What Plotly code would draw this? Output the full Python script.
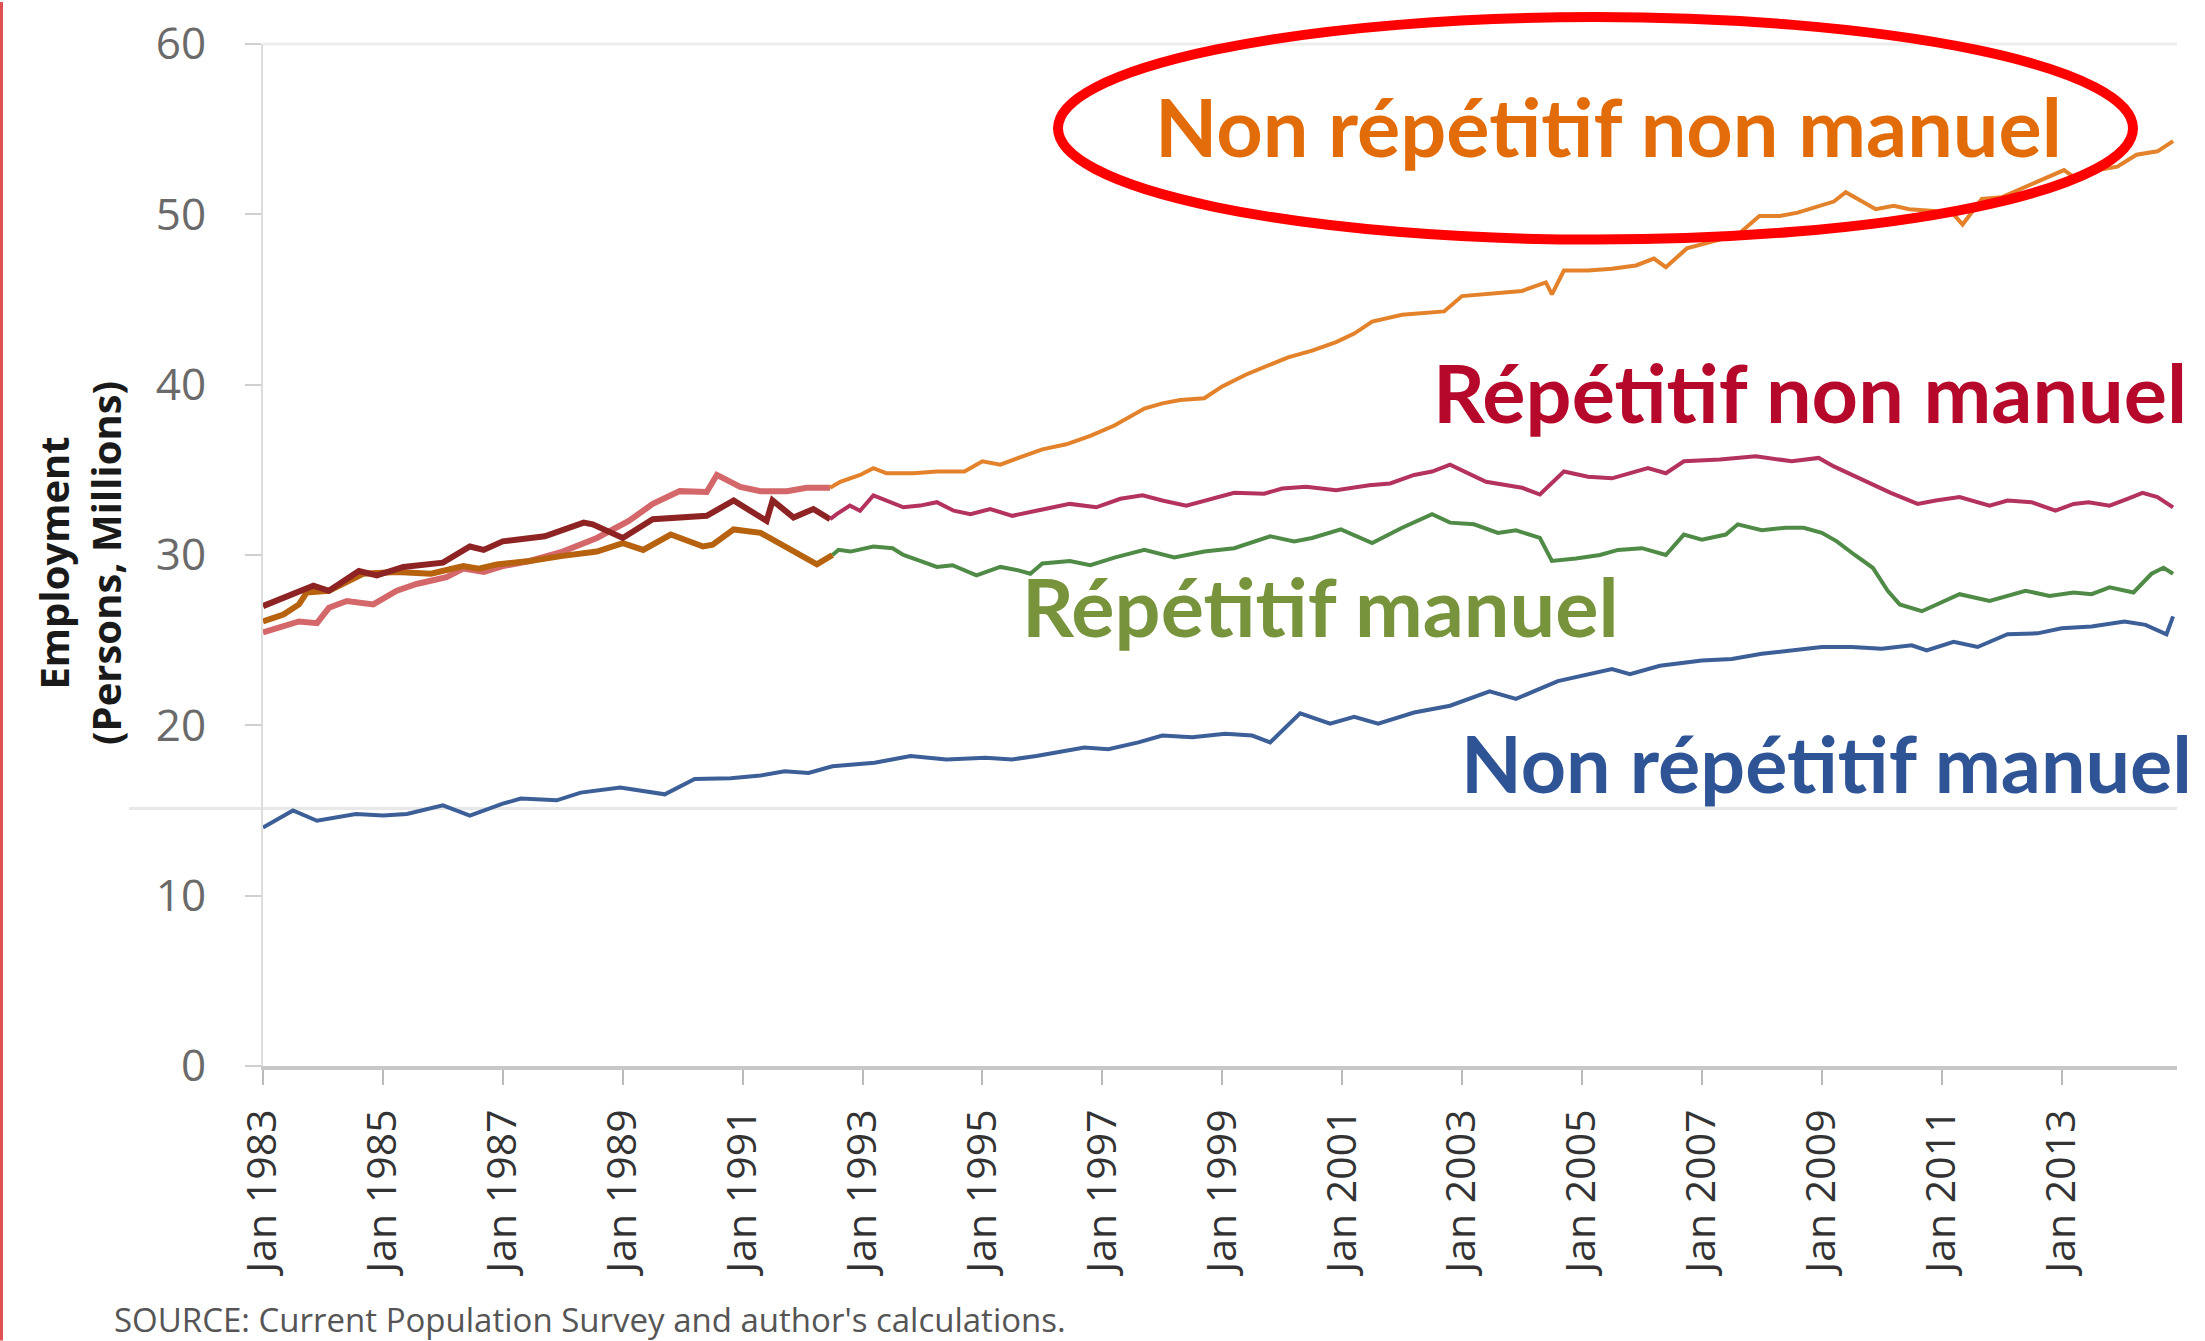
import plotly.graph_objects as go
import pandas as pd

# ---------------- data (decimal years, millions of persons) ----------------
nm_years = [1983.0, 1983.5, 1983.9, 1984.55, 1985.0, 1985.4, 1986.0, 1986.45, 1987.0, 1987.3,
            1987.9, 1988.3, 1988.96, 1989.7, 1990.2, 1990.8, 1991.3, 1991.7, 1992.1, 1992.5,
            1993.2, 1993.8, 1994.4, 1995.05, 1995.5, 1995.9, 1996.7, 1997.1, 1997.6, 1998.0,
            1998.5, 1999.05, 1999.5, 1999.8, 2000.3, 2000.8, 2001.2, 2001.6, 2002.2, 2002.8,
            2003.46, 2003.9, 2004.6, 2005.0, 2005.5, 2005.8, 2006.3, 2007.0, 2007.5, 2008.0,
            2008.5, 2009.0, 2009.5, 2010.0, 2010.5, 2010.75, 2011.2, 2011.6, 2012.1, 2012.6,
            2013.0, 2013.5, 2014.05, 2014.4, 2014.75, 2014.86]
nm_values = [14.0, 15.0, 14.4, 14.8, 14.7, 14.8, 15.3, 14.7, 15.4, 15.7,
             15.6, 16.05, 16.35, 15.95, 16.85, 16.9, 17.05, 17.3, 17.2, 17.6,
             17.8, 18.2, 18.0, 18.1, 18.0, 18.2, 18.7, 18.6, 19.0, 19.4,
             19.3, 19.5, 19.4, 19.0, 20.7, 20.1, 20.5, 20.1, 20.75, 21.15,
             22.0, 21.55, 22.6, 22.9, 23.3, 23.0, 23.5, 23.8, 23.9, 24.2,
             24.4, 24.6, 24.6, 24.5, 24.7, 24.4, 24.9, 24.6, 25.35, 25.4,
             25.7, 25.8, 26.1, 25.9, 25.35, 26.4]

rnm_old_years = [1983.0, 1983.34, 1983.67, 1983.84, 1984.1, 1984.6, 1984.9, 1985.34, 1986.0, 1986.45,
                 1986.68, 1987.0, 1987.7, 1988.35, 1988.5, 1989.0, 1989.5, 1990.4, 1990.85, 1991.4,
                 1991.5, 1991.85, 1992.18, 1992.46]
rnm_old_values = [27.0, 27.5, 27.9, 28.2, 27.9, 29.06, 28.8, 29.3, 29.55, 30.5,
                  30.3, 30.8, 31.1, 31.9, 31.8, 31.0, 32.1, 32.3, 33.2, 32.0,
                  33.2, 32.2, 32.7, 32.1]

rm_old_years = [1983.0, 1983.34, 1983.6, 1983.73, 1984.1, 1984.67, 1985.23, 1985.8, 1986.34, 1986.6,
                1986.9, 1987.45, 1988.0, 1988.57, 1989.0, 1989.34, 1989.8, 1990.34, 1990.5, 1990.85,
                1991.3, 1991.74, 1992.24, 1992.5]
rm_old_values = [26.1, 26.5, 27.1, 27.8, 27.9, 28.9, 29.0, 28.9, 29.35, 29.2,
                 29.45, 29.65, 29.95, 30.2, 30.7, 30.3, 31.2, 30.5, 30.6, 31.5,
                 31.3, 30.4, 29.45, 30.0]

nrc_old_years = [1983.0, 1983.34, 1983.6, 1983.9, 1984.1, 1984.4, 1984.84, 1985.23, 1985.56, 1986.06,
                 1986.34, 1986.68, 1987.0, 1987.45, 1988.0, 1988.57, 1989.1, 1989.5, 1989.95, 1990.4,
                 1990.57, 1990.96, 1991.3, 1991.74, 1992.07, 1992.46]
nrc_old_values = [25.45, 25.8, 26.1, 26.0, 26.9, 27.3, 27.1, 27.9, 28.3, 28.7,
                  29.2, 29.0, 29.35, 29.65, 30.2, 31.0, 32.0, 33.0, 33.75, 33.7,
                  34.7, 34.0, 33.75, 33.75, 33.95, 33.95]

nrc_years = [1992.46, 1992.63, 1992.96, 1993.18, 1993.4, 1993.85, 1994.24, 1994.7, 1995.0, 1995.3,
             1995.6, 1996.0, 1996.4, 1996.8, 1997.2, 1997.7, 1998.0, 1998.3, 1998.7, 1999.0,
             1999.4, 1999.8, 2000.1, 2000.5, 2000.9, 2001.2, 2001.5, 2002.0, 2002.4, 2002.7,
             2003.0, 2003.4, 2004.0, 2004.4, 2004.5, 2004.7, 2005.1, 2005.5, 2005.9, 2006.2,
             2006.4, 2006.75, 2007.2, 2007.6, 2007.96, 2008.3, 2008.6, 2008.9, 2009.2, 2009.4,
             2009.9, 2010.2, 2010.46, 2010.87, 2011.2, 2011.35, 2011.67, 2012.0, 2012.47, 2012.8,
             2013.04, 2013.2, 2013.6, 2013.93, 2014.25, 2014.6, 2014.86]
nrc_values = [33.95, 34.3, 34.7, 35.1, 34.8, 34.8, 34.9, 34.9, 35.5, 35.3,
              35.7, 36.2, 36.5, 37.0, 37.6, 38.6, 38.9, 39.1, 39.2, 39.9,
              40.6, 41.2, 41.6, 42.0, 42.5, 43.0, 43.7, 44.1, 44.2, 44.3,
              45.2, 45.3, 45.5, 46.0, 45.3, 46.7, 46.7, 46.8, 47.0, 47.4,
              46.9, 48.0, 48.4, 48.8, 49.9, 49.9, 50.1, 50.4, 50.75, 51.3,
              50.3, 50.5, 50.3, 50.2, 50.0, 49.4, 50.9, 51.0, 51.7, 52.2,
              52.6, 52.2, 52.6, 52.8, 53.5, 53.7, 54.3]

rnm_years = [1992.46, 1992.57, 1992.79, 1992.96, 1993.18, 1993.4, 1993.68, 1993.96, 1994.24, 1994.52,
             1994.8, 1995.13, 1995.5, 1995.9, 1996.46, 1996.9, 1997.3, 1997.67, 1998.0, 1998.4,
             1998.8, 1999.2, 1999.7, 2000.0, 2000.4, 2000.9, 2001.45, 2001.8, 2002.2, 2002.5,
             2002.8, 2003.1, 2003.4, 2004.0, 2004.3, 2004.7, 2005.1, 2005.5, 2006.1, 2006.4,
             2006.7, 2007.3, 2007.9, 2008.5, 2008.95, 2009.2, 2009.5, 2009.8, 2010.15, 2010.6,
             2010.9, 2011.3, 2011.8, 2012.1, 2012.5, 2012.9, 2013.2, 2013.45, 2013.8, 2014.1,
             2014.35, 2014.6, 2014.86]
rnm_values = [32.1, 32.4, 32.9, 32.6, 33.5, 33.2, 32.8, 32.9, 33.1, 32.6,
              32.4, 32.7, 32.3, 32.6, 33.0, 32.8, 33.3, 33.5, 33.2, 32.9,
              33.3, 33.65, 33.6, 33.9, 34.0, 33.8, 34.1, 34.2, 34.7, 34.9,
              35.3, 34.8, 34.3, 33.95, 33.55, 34.9, 34.6, 34.5, 35.1, 34.8,
              35.5, 35.6, 35.8, 35.5, 35.7, 35.2, 34.7, 34.2, 33.65, 33.0,
              33.2, 33.4, 32.9, 33.2, 33.1, 32.6, 33.0, 33.1, 32.9, 33.3,
              33.65, 33.4, 32.8]

rm_years = [1992.5, 1992.6, 1992.8, 1993.18, 1993.5, 1993.68, 1993.96, 1994.24, 1994.5, 1994.9,
            1995.3, 1995.6, 1995.8, 1996.0, 1996.46, 1996.8, 1997.2, 1997.7, 1998.2, 1998.7,
            1999.2, 1999.8, 2000.2, 2000.5, 2000.98, 2001.5, 2002.0, 2002.5, 2002.8, 2003.2,
            2003.6, 2003.9, 2004.3, 2004.5, 2004.9, 2005.3, 2005.6, 2006.0, 2006.4, 2006.7,
            2007.0, 2007.4, 2007.6, 2008.0, 2008.4, 2008.7, 2009.0, 2009.25, 2009.55, 2009.85,
            2010.1, 2010.3, 2010.67, 2011.0, 2011.3, 2011.8, 2012.1, 2012.4, 2012.8, 2013.2,
            2013.5, 2013.8, 2014.2, 2014.5, 2014.7, 2014.86]
rm_values = [30.0, 30.3, 30.2, 30.5, 30.4, 30.0, 29.65, 29.3, 29.4, 28.8,
             29.3, 29.1, 28.9, 29.5, 29.65, 29.4, 29.85, 30.3, 29.85, 30.2,
             30.4, 31.1, 30.8, 31.0, 31.5, 30.7, 31.6, 32.4, 31.9, 31.8,
             31.3, 31.45, 31.0, 29.65, 29.8, 30.0, 30.3, 30.4, 30.0, 31.2,
             30.9, 31.2, 31.8, 31.45, 31.6, 31.6, 31.3, 30.8, 30.0, 29.25,
             27.9, 27.1, 26.7, 27.2, 27.7, 27.3, 27.6, 27.9, 27.6, 27.8,
             27.7, 28.1, 27.8, 28.9, 29.25, 28.9]

y_ticks = [0, 10, 20, 30, 40, 50, 60]

labels = ["Non répétitif non manuel", "Répétitif non manuel", "Répétitif manuel", "Non répétitif manuel"]
label_colors = ["#E36C0A", "#B5082B", "#77933C", "#2F5496"]


def to_dates(years):
    out = []
    for y in years:
        yi = int(y)
        out.append(pd.Timestamp(year=yi, month=1, day=1) + pd.Timedelta(days=(y - yi) * 365.25))
    return out


fig = go.Figure()

series = [
    (nm_years, nm_values, "#3C5F97", 4),
    (nrc_old_years, nrc_old_values, "#D4676A", 6),
    (rm_old_years, rm_old_values, "#B7620F", 6),
    (rnm_old_years, rnm_old_values, "#8E2323", 6),
    (nrc_years, nrc_values, "#E3822A", 4),
    (rnm_years, rnm_values, "#B4325F", 4),
    (rm_years, rm_values, "#4F8B46", 4),
]
for xs, ys, col, w in series:
    fig.add_trace(go.Scatter(x=to_dates(xs), y=ys, mode="lines",
                             line=dict(color=col, width=w), showlegend=False,
                             hoverinfo="skip"))

L, R, T, B = 263, 28, 42, 275
W, H = 2205, 1341
pw, ph = W - L - R, H - T - B


def px(xf):
    return (xf - L) / pw


def py(yf):
    return (H - B - yf) / ph


fig.update_layout(
    width=W, height=H,
    margin=dict(l=L, r=R, t=T, b=B, pad=0),
    paper_bgcolor="white", plot_bgcolor="white",
    font=dict(family="Open Sans", color="#404040"),
    showlegend=False,
)

fig.update_xaxes(
    type="date",
    range=["1983-01-01", "2014-12-05"],
    tick0="1983-01-01", dtick="M24", tickformat="%b %Y",
    tickangle=-90,
    tickfont=dict(size=41, color="#333333", family="Open Sans"),
    ticks="outside", ticklen=15, tickwidth=2, tickcolor="#BBBBBB",
    ticklabelstandoff=8,
    showline=True, linecolor="#C8C8C8", linewidth=4,
    showgrid=False, zeroline=False,
)
fig.update_yaxes(
    range=[0, 60], tickvals=y_ticks,
    tickfont=dict(size=44, color="#6A6A6A", family="Open Sans"),
    ticks="outside", ticklen=16, tickwidth=2, tickcolor="#D0D0D0",
    ticklabelstandoff=30,
    showline=True, linecolor="#DDDDDD", linewidth=2,
    showgrid=False, zeroline=False,
)

shapes = [
    # faint top line and stray gridline of the original picture
    dict(type="line", xref="paper", yref="paper", x0=0, x1=1, y0=1, y1=1,
         line=dict(color="#EDEDED", width=3), layer="below"),
    dict(type="line", xref="paper", yref="paper", x0=-0.07, x1=1, y0=py(808), y1=py(808),
         line=dict(color="#E8E8E8", width=3), layer="below"),
    # red highlight ellipse
    dict(type="circle", xref="paper", yref="paper",
         x0=px(1058), x1=px(2133), y0=py(238), y1=py(15),
         line=dict(color="#FF0000", width=10)),
    # thin red frame line at the far left
    dict(type="line", xref="paper", yref="paper", x0=px(1.5), x1=px(1.5), y0=py(0), y1=py(H),
         line=dict(color="#E05050", width=3)),
]
fig.update_layout(shapes=shapes)

ann = []
label_pos = [(1608, 124), (1810, 390), (1320, 605), (1826, 762)]
label_sizes = [81, 81, 81, 79]
for text, col, (ax, ay), sz in zip(labels, label_colors, label_pos, label_sizes):
    ann.append(dict(text=text, xref="paper", yref="paper", x=px(ax), y=py(ay),
                    xanchor="center", yanchor="middle", showarrow=False,
                    font=dict(family="Lato", size=sz, color=col, weight="bold")))
ann.append(dict(text="<b>Employment<br>(Persons, Millions)</b>", xref="paper", yref="paper",
                x=px(80), y=py(562), xanchor="center", yanchor="middle", textangle=-90,
                showarrow=False, font=dict(family="Open Sans", size=40, color="#1A1A1A")))
ann.append(dict(text="SOURCE: Current Population Survey and author's calculations.",
                xref="paper", yref="paper", x=px(112), y=py(1320), xanchor="left",
                yanchor="middle", showarrow=False,
                font=dict(family="Open Sans", size=33, color="#555555")))
fig.update_layout(annotations=ann)

fig.write_html("out.html", config={"displayModeBar": False},
               post_script="document.body.style.margin='0';document.body.style.overflow='hidden';")
